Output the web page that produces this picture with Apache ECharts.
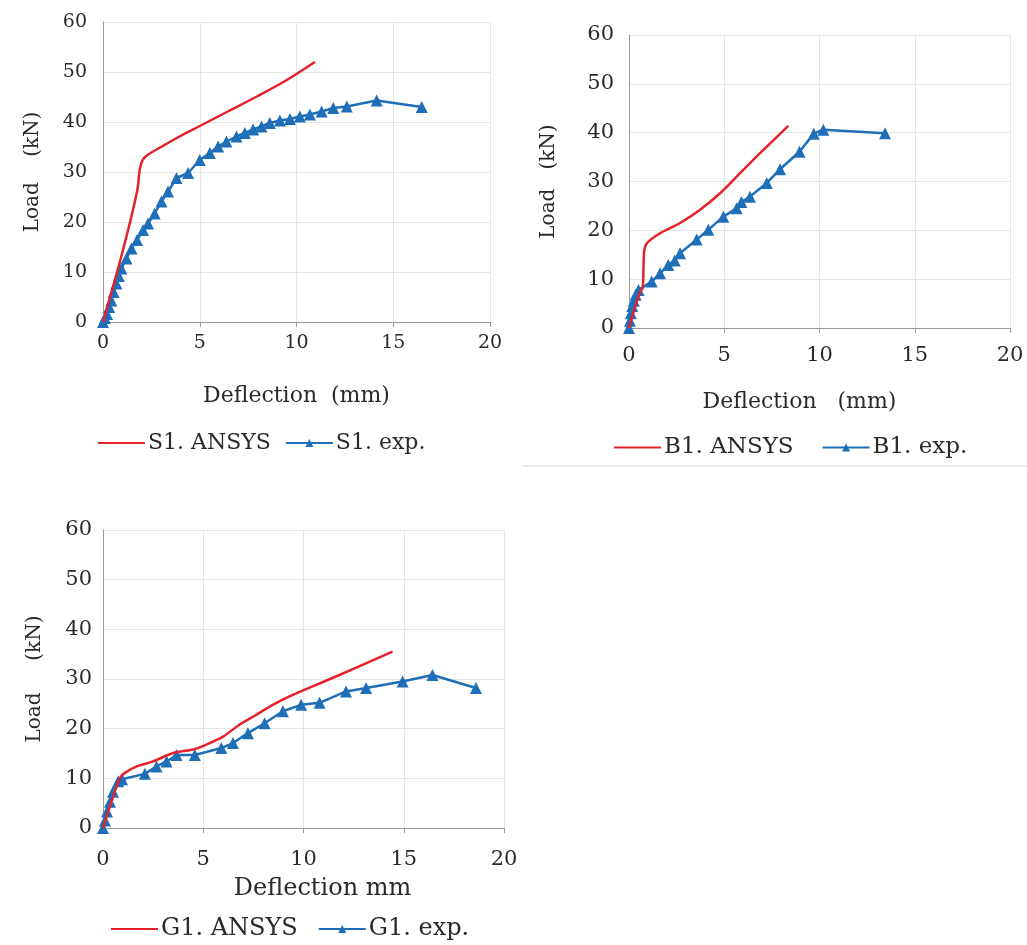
<!DOCTYPE html>
<html>
<head>
<meta charset="utf-8">
<script src="https://cdn.jsdelivr.net/npm/echarts@6/dist/echarts.min.js"></script>
<style>
html,body{margin:0;padding:0;background:#fff;}
#c{width:1027px;height:945px;}
</style>
</head>
<body>
<div id="c"></div>
<script>
// ---- Data ----
var xTicks = [0, 5, 10, 15, 20];
var yTicks = [0, 10, 20, 30, 40, 50, 60];

var s1Ansys = [[0,0],[0.8,11],[1.4,20],[1.7,25],[1.8,27],[1.9,30.5],[2.05,32.4],[2.3,33.4],[3,35],[4,37.2],[5,39.2],[6.5,42.2],[8,45.2],[9.5,48.4],[10.95,52]];
var s1Exp = [[0,0],[0.1,0.8],[0.21,1.6],[0.32,3],[0.43,4.3],[0.55,6],[0.69,7.7],[0.82,9.2],[0.95,10.7],[1.21,12.7],[1.47,14.7],[1.76,16.4],[2.07,18.4],[2.33,19.7],[2.67,21.7],[3.02,24.1],[3.36,26.1],[3.8,28.8],[4.4,29.8],[5.0,32.4],[5.52,33.8],[5.95,35.1],[6.38,36.1],[6.9,37.1],[7.33,37.8],[7.76,38.5],[8.19,39.1],[8.62,39.8],[9.14,40.3],[9.66,40.6],[10.17,41.1],[10.69,41.5],[11.3,42.1],[11.9,42.8],[12.6,43.1],[14.14,44.3],[16.47,43.0]];

var b1Ansys = [[0,0],[0.3,4],[0.6,7.5],[0.72,8.3],[0.76,12],[0.8,15.8],[0.95,17.4],[1.63,19.4],[2.68,21.5],[3.73,24.2],[4.78,27.6],[5.83,31.7],[6.88,35.8],[8.36,41.4]];
var b1Exp = [[0,0],[0.05,1.5],[0.1,3],[0.17,4.5],[0.25,5.6],[0.35,6.8],[0.5,7.8],[1.19,9.5],[1.63,11.2],[2.06,12.9],[2.4,13.8],[2.68,15.3],[3.55,18.1],[4.16,20.1],[4.95,22.8],[5.65,24.5],[5.9,25.8],[6.35,26.9],[7.23,29.7],[7.93,32.5],[8.95,36.1],[9.7,39.8],[10.2,40.6],[13.44,39.9]];

var g1Ansys = [[0,0],[0.4,5],[0.85,10.1],[1.09,11.1],[1.68,12.4],[2.5,13.4],[3.5,15.1],[4.49,15.8],[5.16,16.8],[5.99,18.4],[6.8,20.8],[7.65,22.8],[8.47,24.8],[9.3,26.5],[11.5,30.3],[14.44,35.5]];
var g1Exp = [[0,0],[0.1,1.5],[0.2,3.3],[0.35,5.3],[0.5,7.3],[0.76,9.4],[0.95,9.8],[2.09,10.9],[2.67,12.4],[3.17,13.4],[3.67,14.7],[4.58,14.7],[5.9,16.1],[6.48,17.1],[7.23,19.1],[8.06,21.1],[8.97,23.5],[9.88,24.8],[10.8,25.2],[12.12,27.5],[13.12,28.2],[14.94,29.5],[16.43,30.8],[18.6,28.2]];

var names = ['S1. ANSYS','S1. exp.','B1. ANSYS','B1. exp.','G1. ANSYS','G1. exp.'];
var xNames = ['Deflection  (mm)','Deflection   (mm)','Deflection mm'];
var yNames = ['Load    (kN)','Load   (kN)','Load     (kN)'];

// ---- Styling ----
var RED = '#E5212B', BLUE = '#1E6FB8';
var FONT = 'DejaVu Serif';
var TXT = '#2a2a2a';

var grids = [
  {left:103, top:22, width:387, height:300},
  {left:629, top:35, width:381, height:293},
  {left:103, top:530, width:401, height:298}
];
var xGaps = [63, 63, 49];
var yGaps = [60, 70, 58];
var tickFont = [19, 21, 21];
var xLabMargin = [12, 17, 21];
var yLabMargin = [16, 15, 11];
var nameFont = [22, 22, 24];
var namePad = [[0,0,0,0],[0,40,0,0],[0,0,0,38]];
var legFont = [22, 23, 24];

function xAxis(i){
  return {
    type:'value', gridIndex:i, min:xTicks[0], max:xTicks[xTicks.length-1], interval:5,
    name:xNames[i], nameLocation:'middle', nameGap:xGaps[i],
    nameTextStyle:{fontFamily:FONT, fontSize:nameFont[i], color:TXT, padding:namePad[i]},
    axisLine:{show:true, lineStyle:{color:'#9a9a9a', width:1}},
    axisTick:{show:true, length:5, lineStyle:{color:'#9a9a9a'}},
    axisLabel:{fontFamily:FONT, fontSize:tickFont[i], color:TXT, margin:xLabMargin[i]},
    splitLine:{show:true, lineStyle:{color:'#e6e6e6'}}
  };
}
function yAxis(i){
  return {
    type:'value', gridIndex:i, min:yTicks[0], max:yTicks[yTicks.length-1], interval:10,
    name:yNames[i], nameLocation:'middle', nameGap:yGaps[i], nameRotate:90,
    nameTextStyle:{fontFamily:FONT, fontSize:20, color:TXT},
    axisLine:{show:true, lineStyle:{color:'#9a9a9a', width:1}},
    axisTick:{show:false},
    axisLabel:{fontFamily:FONT, fontSize:tickFont[i], color:TXT, margin:yLabMargin[i]},
    splitLine:{show:true, lineStyle:{color:'#e6e6e6'}}
  };
}
function redS(i, data, name){
  return {type:'line', name:name, xAxisIndex:i, yAxisIndex:i, data:data, smooth:0.3,
    symbol:'none', lineStyle:{color:RED, width:2.5}, itemStyle:{color:RED}, z:3};
}
function blueS(i, data, name){
  return {type:'line', name:name, xAxisIndex:i, yAxisIndex:i, data:data,
    symbol:'triangle', symbolSize:12, lineStyle:{color:BLUE, width:2.5}, itemStyle:{color:BLUE}, z:2};
}
function legend(i, left, top, gap){
  return {
    data:[
      {name:names[2*i], itemStyle:{color:'rgba(0,0,0,0)', borderWidth:0}},
      {name:names[2*i+1]}
    ],
    left:left, top:top, padding:0, itemWidth:47, itemHeight:10, itemGap:gap,
    textStyle:{fontFamily:FONT, fontSize:legFont[i], color:TXT, padding:[0,0,0,-2]}
  };
}

var chart = echarts.init(document.getElementById('c'), null, {renderer:'canvas'});
chart.setOption({
  animation:false,
  backgroundColor:'#fff',
  grid:grids,
  xAxis:[xAxis(0), xAxis(1), xAxis(2)],
  yAxis:[yAxis(0), yAxis(1), yAxis(2)],
  legend:[legend(0, 97, 432, 14), legend(1, 613, 436, 28), legend(2, 110, 917, 20)],
  series:[
    redS(0, s1Ansys, names[0]), blueS(0, s1Exp, names[1]),
    redS(1, b1Ansys, names[2]), blueS(1, b1Exp, names[3]),
    redS(2, g1Ansys, names[4]), blueS(2, g1Exp, names[5])
  ],
  graphic:[{type:'line', shape:{x1:522, y1:466, x2:1027, y2:466}, style:{stroke:'#ececec', lineWidth:2}, silent:true}]
});
</script>
</body>
</html>
